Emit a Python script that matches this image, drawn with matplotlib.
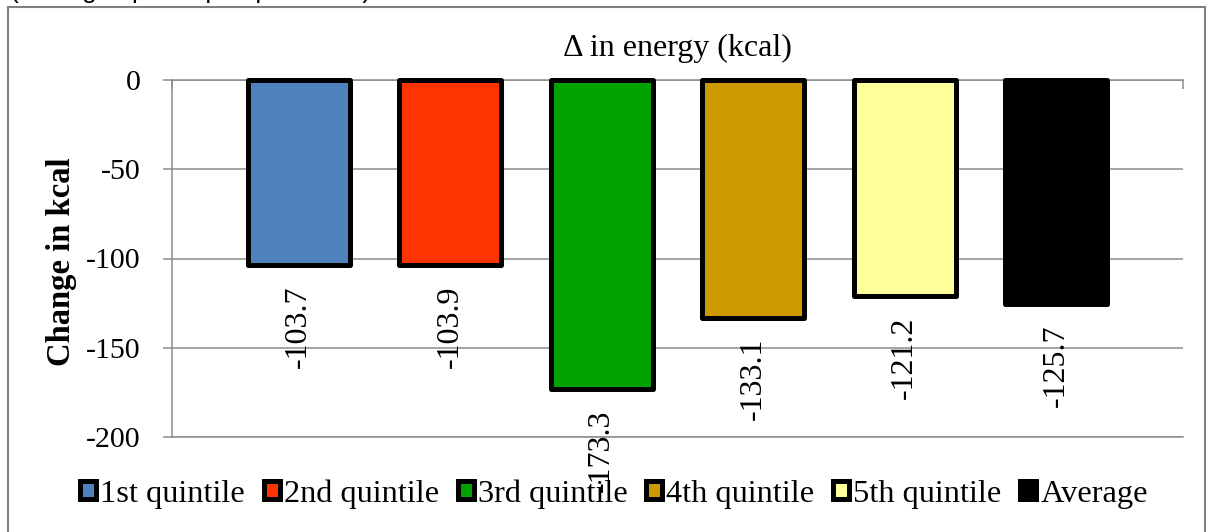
import matplotlib.pyplot as plt
from matplotlib.patches import Patch, Rectangle

plt.rcParams['font.family'] = ['Liberation Serif', 'DejaVu Serif']

series = ['1st quintile', '2nd quintile', '3rd quintile', '4th quintile', '5th quintile', 'Average']
values = [-103.7, -103.9, -173.3, -133.1, -121.2, -125.7]
colors = ['#4F81BD', '#FF3300', '#00A300', '#CC9900', '#FFFF99', '#000000']
yticks = [0, -50, -100, -150, -200]

fig = plt.figure(figsize=(12.06, 5.32), dpi=100)
ax = fig.add_axes([172/1206, 1-437/532, (1183-172)/1206, (437-80)/532])

pos = list(range(len(series)))
bars = ax.bar(pos, values, width=0.675, color=colors, edgecolor='black',
              linewidth=3.6, joinstyle='round', zorder=3, clip_on=False)

for x, v in zip(pos, values):
    ax.annotate('%.1f' % v, xy=(x, v), xytext=(0, -20), textcoords='offset pixels',
                rotation=90, ha='center', va='top', fontsize=23, zorder=5,
                annotation_clip=False)

ax.set_xlim(-0.837, 5.837)
ax.set_ylim(-200, 0)
ax.set_yticks(yticks)
ax.set_yticklabels([str(t) for t in yticks])
ax.tick_params(axis='y', length=6.5, width=1.1, color='#8C8C8C', pad=16, labelsize=21.5)
ax.xaxis.tick_top()
ax.set_xticks([-0.837, 5.837])
ax.tick_params(axis='x', direction='in', length=6.5, width=1.1, color='#8C8C8C', labeltop=False)
ax.grid(axis='y', color='#8C8C8C', linewidth=1.1, zorder=0)
ax.set_axisbelow(True)
for s in ['top', 'left', 'bottom']:
    ax.spines[s].set_color('#8C8C8C')
    ax.spines[s].set_linewidth(1.1)
ax.spines['right'].set_visible(False)

ax.set_title('\u0394 in energy (kcal)', fontsize=23, pad=17)
ax.set_ylabel('Change in kcal', fontsize=23.5, fontweight='bold', va='center')
ax.yaxis.set_label_coords(-0.109, 0.49)

handles = [Patch(facecolor=c, edgecolor='black', linewidth=3.6, joinstyle='round') for c in colors]
fig.legend(handles, series, loc='center', bbox_to_anchor=(0.509, 1-494/532), ncol=6,
           frameon=False, fontsize=23.3, handlelength=0.5, handleheight=0.5,
           handletextpad=0.12, columnspacing=0.58)

fig.patches.append(Rectangle((8/1206, -0.1), (1205-8)/1206, 1.1-7/532, transform=fig.transFigure,
                             fill=False, edgecolor='#808080', linewidth=1.5))
fig.text(10/1206, 1.003, '(Changes per capita per week)', va='baseline', ha='left',
         fontsize=19, family=['Liberation Sans'])

fig.savefig('out.png', dpi=100)
